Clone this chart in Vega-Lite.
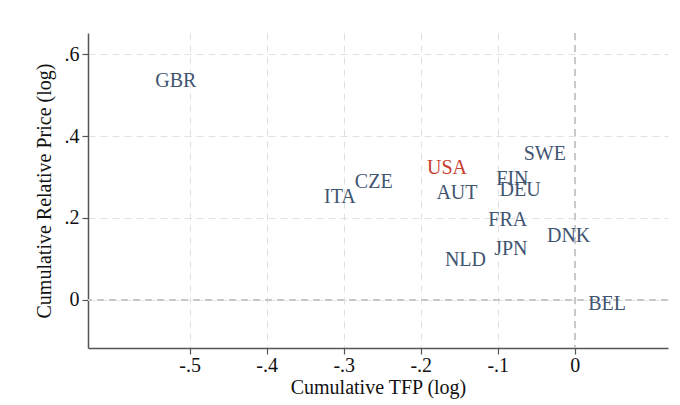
{
  "$schema": "https://vega.github.io/schema/vega-lite/v6.json",
  "width": 580,
  "height": 315,
  "autosize": "none",
  "padding": {"left": 88, "top": 33, "right": 12, "bottom": 57},
  "background": "white",
  "config": {
    "view": {"stroke": null},
    "font": "Liberation Serif",
    "axis": {
      "labelFont": "Liberation Serif",
      "titleFont": "Liberation Serif",
      "labelFontSize": 20,
      "titleFontSize": 20,
      "titleFontWeight": "normal",
      "labelColor": "#111",
      "titleColor": "#111",
      "domainColor": "#555",
      "domainWidth": 1.5,
      "tickColor": "#555",
      "tickWidth": 1.2,
      "tickSize": 6,
      "grid": true,
      "gridColor": "#d9d9d9",
      "gridOpacity": 0.8,
      "gridDash": [7, 5],
      "gridWidth": 1
    }
  },
  "data": {
    "values": [
      {"country": "GBR", "tfp": -0.518, "price": 0.534},
      {"country": "ITA", "tfp": -0.305, "price": 0.251},
      {"country": "CZE", "tfp": -0.261, "price": 0.288},
      {"country": "USA", "tfp": -0.166, "price": 0.322},
      {"country": "AUT", "tfp": -0.153, "price": 0.261},
      {"country": "FIN", "tfp": -0.081, "price": 0.295},
      {"country": "DEU", "tfp": -0.071, "price": 0.268},
      {"country": "SWE", "tfp": -0.039, "price": 0.357},
      {"country": "FRA", "tfp": -0.087, "price": 0.194},
      {"country": "DNK", "tfp": -0.008, "price": 0.157},
      {"country": "JPN", "tfp": -0.083, "price": 0.125},
      {"country": "NLD", "tfp": -0.142, "price": 0.098},
      {"country": "BEL", "tfp": 0.042, "price": -0.01}
    ]
  },
  "layer": [
    {
      "mark": {"type": "rule", "color": "#c8c8c8", "strokeDash": [7, 5], "strokeWidth": 1.5},
      "encoding": {"x": {"datum": 0, "type": "quantitative"}}
    },
    {
      "mark": {"type": "rule", "color": "#c8c8c8", "strokeDash": [7, 5], "strokeWidth": 1.5},
      "encoding": {"y": {"datum": 0, "type": "quantitative"}}
    },
    {
      "mark": {"type": "text", "font": "Liberation Serif", "fontSize": 20, "baseline": "middle", "align": "center"},
      "encoding": {
        "x": {
          "field": "tfp",
          "type": "quantitative",
          "scale": {"domain": [-0.632, 0.121], "nice": false, "zero": false},
          "axis": {
            "title": "Cumulative TFP (log)",
            "values": [-0.5, -0.4, -0.3, -0.2, -0.1, 0],
            "labelExpr": "datum.value == 0 ? '0' : (datum.value < 0 ? '-' : '') + '.' + round(abs(datum.value) * 10)",
            "labelPadding": 1,
            "titlePadding": 2
          }
        },
        "y": {
          "field": "price",
          "type": "quantitative",
          "scale": {"domain": [-0.118, 0.652], "nice": false, "zero": false},
          "axis": {
            "title": "Cumulative Relative Price (log)",
            "values": [0, 0.2, 0.4, 0.6],
            "labelExpr": "datum.value == 0 ? '0' : '.' + round(datum.value * 10)",
            "labelPadding": 3,
            "titlePadding": 10
          }
        },
        "text": {"field": "country", "type": "nominal"},
        "color": {
          "condition": {"test": "datum.country === 'USA'", "value": "#c8402f"},
          "value": "#3f5571"
        }
      }
    }
  ]
}
